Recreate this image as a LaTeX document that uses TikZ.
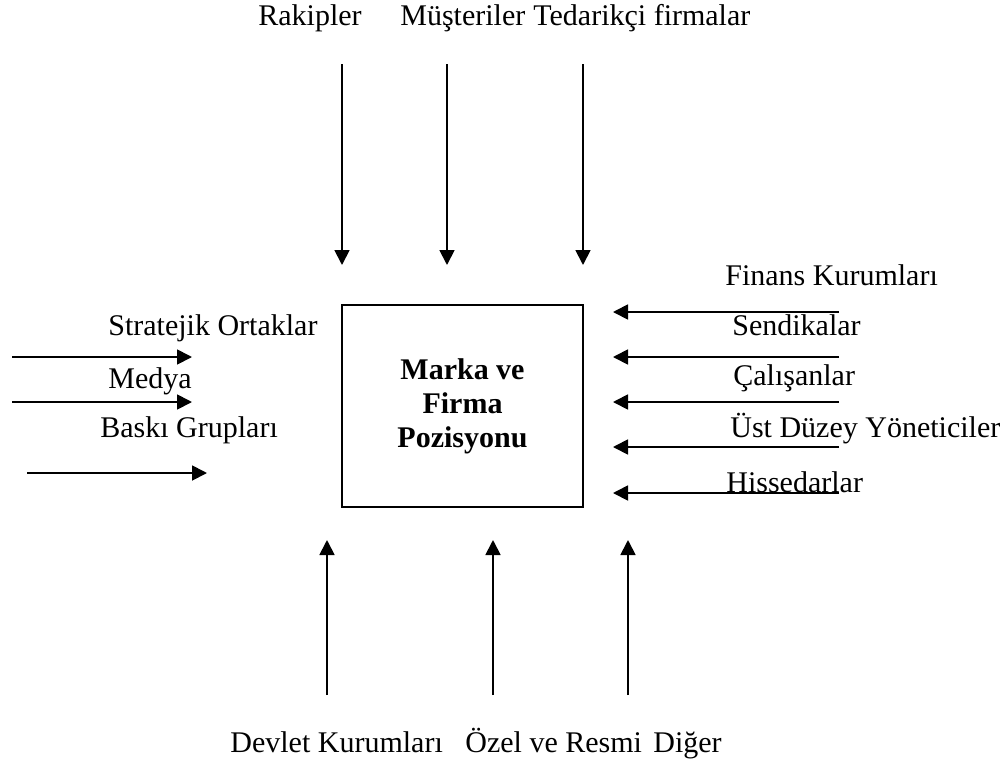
\documentclass[tikz,border=0pt]{standalone}
\usepackage{fontspec}
\setmainfont{Liberation Serif}
\usetikzlibrary{arrows.meta}

\begin{document}
\begin{tikzpicture}[x=0.5pt,y=-0.5pt,
    lbl/.style={anchor=base west,inner sep=0pt,font=\fontsize{15}{17}\selectfont},
    flow/.style={line width=0.9pt,-{Triangle[length=7.5pt,width=7.5pt]}}]

\useasboundingbox (0,0) rectangle (1007,761);

\node (pos) [draw,line width=1.1pt,minimum width=120.5pt,minimum height=101pt,inner sep=0pt,
    align=center,font=\bfseries\fontsize{15}{17}\selectfont] at (462.5,406) {Marka ve\\Firma\\Pozisyonu};

% top
\node (rak) [lbl] at (258,25) {Rakipler};
\node (mus) [lbl] at (400,25) {Müşteriler};
\node (ted) [lbl] at (533,25) {Tedarikçi firmalar};
\coordinate (rakA) at (342,64);  \coordinate (rakB) at (342,265);
\coordinate (musA) at (447,64);  \coordinate (musB) at (447,265);
\coordinate (tedA) at (583,64);  \coordinate (tedB) at (583,265);
\draw [flow] (rakA) -- (rakB);
\draw [flow] (musA) -- (musB);
\draw [flow] (tedA) -- (tedB);

% right
\node (fin) [lbl] at (725,285) {Finans Kurumları};
\node (sen) [lbl] at (732,335) {Sendikalar};
\node (cal) [lbl] at (733,385) {Çalışanlar};
\node (ust) [lbl] at (730,437) {Üst Düzey Yöneticiler};
\node (his) [lbl] at (726,492) {Hissedarlar};
\coordinate (finA) at (839,312); \coordinate (finB) at (613,312);
\coordinate (senA) at (839,357); \coordinate (senB) at (613,357);
\coordinate (calA) at (839,402); \coordinate (calB) at (613,402);
\coordinate (ustA) at (839,447); \coordinate (ustB) at (613,447);
\coordinate (hisA) at (839,493); \coordinate (hisB) at (613,493);
\draw [flow] (finA) -- (finB);
\draw [flow] (senA) -- (senB);
\draw [flow] (calA) -- (calB);
\draw [flow] (ustA) -- (ustB);
\draw [flow] (hisA) -- (hisB);

% left
\node (str) [lbl] at (108,335) {Stratejik Ortaklar};
\node (med) [lbl] at (108,388) {Medya};
\node (bas) [lbl] at (100,437) {Baskı Grupları};
\coordinate (strA) at (12,357);  \coordinate (strB) at (192,357);
\coordinate (medA) at (12,402);  \coordinate (medB) at (192,402);
\coordinate (basA) at (27,473);  \coordinate (basB) at (207,473);
\draw [flow] (strA) -- (strB);
\draw [flow] (medA) -- (medB);
\draw [flow] (basA) -- (basB);

% bottom
\node (dev) [lbl] at (230,752) {Devlet Kurumları};
\node (oze) [lbl] at (465,752) {Özel ve Resmi};
\node (dig) [lbl] at (653,752) {Diğer};
\coordinate (devA) at (327,695); \coordinate (devB) at (327,540);
\coordinate (ozeA) at (493,695); \coordinate (ozeB) at (493,540);
\coordinate (digA) at (628,695); \coordinate (digB) at (628,540);
\draw [flow] (devA) -- (devB);
\draw [flow] (ozeA) -- (ozeB);
\draw [flow] (digA) -- (digB);

\end{tikzpicture}
\end{document}
